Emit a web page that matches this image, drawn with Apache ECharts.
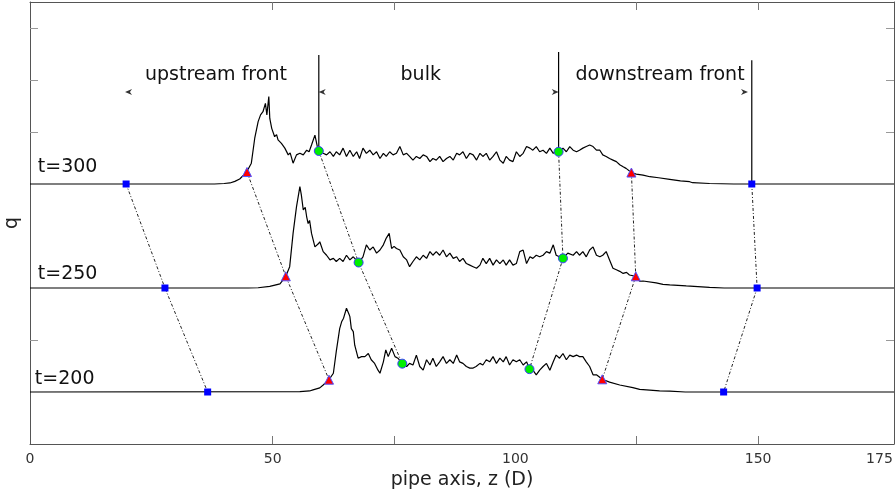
<!DOCTYPE html>
<html><head><meta charset="utf-8">
<script src="https://cdn.jsdelivr.net/npm/echarts@6/dist/echarts.min.js"></script>
<style>html,body{margin:0;padding:0;background:#fff}#c{width:895px;height:493px}</style>
</head><body><div id="c"></div>
<script>
// ---- data ----
const timeLabels = ['t=300', 't=250', 't=200'];
const offsets = [5, 3, 1]; // vertical offset of each profile (axis units)
const xTickLabels = [0, 50, 100, 150, 175];
const xTickMarks = [50, 75, 125, 150];
const yTickMarks = [2, 6, 7, 8];

// profiles q(z) as [z, q]
const q300 = [[0,0],[38,0],[40,0.01],[41.2,0.02],[42.2,0.05],[43.2,0.096],[44.6,0.225],[45.6,0.40],[46.3,0.88],[47.0,1.20],[47.5,1.33],[48.0,1.39],[48.3,1.36],[48.5,1.55],[48.8,1.33],[49.2,1.68],[49.4,1.26],[49.8,1.07],[50.4,0.91],[50.8,0.95],[51.1,0.85],[51.8,0.78],[52.5,0.69],[53.2,0.56],[53.6,0.60],[54.2,0.40],[54.9,0.56],[55.6,0.59],[56.3,0.56],[57.0,0.65],[57.5,0.62],[58.0,0.75],[58.7,0.94],[59.2,0.72],[59.5,0.635],
[60.4,0.59],[61.1,0.56],[61.8,0.62],[62.5,0.53],[63.1,0.62],[63.8,0.56],[64.5,0.69],[65.2,0.53],[65.9,0.65],[66.6,0.53],[67.3,0.62],[67.9,0.49],[68.6,0.69],[69.3,0.59],[70.0,0.65],[70.7,0.56],[71.4,0.62],[72.1,0.49],[72.8,0.59],[73.4,0.53],[74.1,0.62],[74.8,0.56],[75.5,0.59],[76.2,0.72],[76.9,0.56],[77.6,0.59],[78.2,0.53],[78.9,0.46],[79.6,0.53],[80.3,0.49],[81.0,0.56],[81.7,0.53],[82.4,0.43],[83.0,0.49],[83.7,0.46],[84.4,0.53],[85.1,0.43],[85.8,0.49],[86.5,0.53],[87.2,0.46],[87.9,0.59],[88.5,0.56],[89.2,0.62],[89.9,0.49],[90.6,0.59],[91.3,0.56],[92.0,0.46],[92.7,0.59],[93.3,0.53],[94.0,0.59],[94.7,0.46],[95.4,0.53],[96.1,0.62],[96.8,0.46],[97.5,0.40],[98.1,0.53],[98.8,0.46],[99.5,0.43],[100.2,0.62],[100.9,0.53],[101.6,0.59],[102.3,0.72],[103.0,0.69],[103.6,0.65],[104.3,0.72],[105.0,0.62],[105.7,0.65],[106.4,0.59],[107.1,0.69],[107.8,0.59],[108.4,0.62],[108.9,0.62],[109.8,0.69],[110.5,0.62],[111.2,0.72],[111.9,0.65],[112.6,0.62],[113.2,0.65],[113.9,0.69],[114.6,0.72],[115.3,0.75],[116.0,0.72],[116.7,0.65],[117.4,0.65],[118.0,0.56],[118.7,0.53],[119.4,0.49],[120.1,0.46],[120.8,0.43],[121.5,0.37],[122.2,0.33],[122.8,0.30],[123.9,0.22],[124.9,0.19],[126.3,0.17],[127.7,0.14],[129.5,0.12],[131.8,0.09],[134.0,0.06],[135.9,0.044],[136.5,0.025],[140,0.01],[145,0],[178,0]];

const q250 = [[0,0],[45,0],[47,0.005],[49.4,0.03],[51.5,0.08],[52.7,0.225],[53.5,0.41],[54.2,1.05],[54.9,1.56],[55.6,1.95],[55.9,1.79],[56.3,1.50],[56.7,1.55],[57.0,1.37],[57.3,1.24],[57.6,1.30],[58.0,1.05],[58.7,0.79],[59.4,0.85],[59.7,0.89],[60.4,0.70],[61.1,0.63],[61.8,0.54],[62.5,0.57],[63.1,0.51],[63.8,0.57],[64.5,0.51],[65.2,0.63],[65.9,0.54],[66.6,0.60],[67.7,0.49],[68.6,0.60],[69.3,0.83],[70.0,0.73],[70.7,0.79],[71.4,0.67],[72.1,0.73],[72.8,0.83],[73.4,0.96],[74.0,1.05],[74.5,0.76],[75.0,0.80],[75.5,0.76],[76.2,0.73],[76.9,0.60],[77.6,0.54],[78.2,0.41],[78.9,0.51],[79.6,0.60],[80.3,0.54],[81.0,0.63],[81.7,0.57],[82.4,0.70],[83.0,0.63],[83.7,0.70],[84.4,0.63],[85.1,0.73],[85.8,0.60],[86.5,0.67],[87.2,0.57],[87.9,0.60],[88.5,0.51],[89.2,0.57],[89.9,0.47],[90.6,0.44],[91.3,0.41],[92.0,0.38],[92.7,0.44],[93.3,0.57],[94.0,0.47],[94.7,0.57],[95.4,0.44],[96.1,0.54],[96.8,0.47],[97.5,0.54],[98.1,0.44],[98.8,0.54],[99.5,0.44],[100.2,0.47],[100.9,0.70],[101.6,0.73],[102.3,0.47],[103.0,0.60],[103.6,0.57],[104.3,0.63],[105.0,0.60],[105.7,0.63],[106.4,0.70],[107.1,0.67],[107.8,0.83],[108.4,0.63],[109.8,0.57],[110.8,0.67],[111.9,0.63],[112.6,0.70],[113.2,0.63],[113.9,0.70],[114.6,0.60],[115.3,0.73],[116.0,0.79],[116.7,0.63],[117.4,0.60],[118.0,0.63],[118.7,0.70],[119.4,0.54],[120.1,0.38],[120.8,0.35],[121.5,0.32],[122.2,0.28],[122.9,0.30],[123.5,0.25],[124.8,0.225],[125.6,0.13],[126.3,0.135],[129.0,0.10],[130.4,0.07],[131.8,0.06],[135.2,0.04],[140,0.013],[143,0],[178,0]];

const q200 = [[0,0],[55.6,0.006],[57.6,0.02],[58.3,0.04],[59.7,0.08],[60.4,0.135],[61.6,0.237],[62.5,0.36],[63.1,0.78],[63.8,1.22],[64.2,1.35],[64.6,1.42],[65.2,1.61],[65.5,1.64],[65.7,1.50],[65.9,1.45],[66.2,1.22],[66.6,1.16],[66.9,0.90],[67.6,0.65],[68.3,0.68],[69.0,0.68],[69.7,0.74],[70.3,0.62],[71.0,0.55],[71.7,0.42],[72.1,0.36],[72.8,0.58],[73.3,0.81],[73.8,0.68],[74.5,0.84],[75.2,0.68],[75.8,0.65],[76.7,0.545],[77.6,0.49],[78.2,0.55],[78.9,0.52],[79.6,0.71],[80.3,0.49],[81.0,0.42],[81.7,0.62],[82.4,0.52],[83.0,0.65],[83.7,0.49],[84.4,0.58],[85.1,0.68],[85.8,0.55],[86.5,0.62],[87.2,0.55],[87.9,0.71],[88.5,0.58],[89.2,0.55],[89.9,0.49],[90.6,0.46],[91.3,0.46],[91.9,0.49],[92.7,0.55],[93.3,0.52],[94.0,0.62],[94.7,0.58],[95.4,0.68],[96.1,0.55],[96.8,0.65],[97.5,0.58],[98.1,0.68],[98.8,0.52],[99.5,0.62],[100.2,0.58],[100.9,0.62],[101.6,0.52],[102.3,0.58],[102.9,0.44],[103.6,0.42],[104.3,0.33],[105.0,0.42],[105.7,0.49],[106.4,0.55],[107.1,0.42],[107.8,0.58],[108.4,0.71],[109.1,0.65],[109.8,0.74],[110.5,0.62],[111.2,0.71],[111.9,0.68],[112.6,0.71],[113.2,0.68],[113.9,0.68],[114.6,0.58],[115.3,0.49],[116.0,0.33],[116.7,0.33],[117.9,0.244],[119.4,0.19],[121.5,0.135],[124.2,0.083],[125.6,0.05],[127.0,0.04],[129.7,0.02],[131.8,0.015],[135,0],[178,0]];

// tracked points: z and q at t=300, t=250, t=200
const sqLeftZ = [19.8, 27.8, 36.6];
const sqLeftQ = [0, 0, 0];
const triLeftZ = [44.7, 52.7, 61.6];
const triLeftQ = [0.23, 0.225, 0.237];
const circLeftZ = [59.5, 67.7, 76.7];
const circLeftQ = [0.635, 0.49, 0.545];
const circRightZ = [108.9, 109.8, 102.9];
const circRightQ = [0.62, 0.57, 0.44];
const triRightZ = [123.9, 124.8, 117.9];
const triRightQ = [0.22, 0.225, 0.244];
const sqRightZ = [148.7, 149.8, 142.9];
const sqRightQ = [0, 0, 0];

// region divider lines (z, bottom y, top y)
const dividerZ = [59.5, 108.9, 148.7];
const dividerBottom = [5.635, 5.62, 5.0];
const dividerTop = [7.48, 7.54, 7.38];
// arrowheads (z, y, direction)
const arrowZ = [20.3, 60.2, 108.2, 147.2];
const arrowY = [6.77, 6.77, 6.77, 6.77];
const arrowDir = ['left', 'left', 'right', 'right'];
const regionNames = ['upstream front', 'bulk', 'downstream front'];

// ---- chart ----
const FONT = 'DejaVu Sans';
const chart = echarts.init(document.getElementById('c'), null, {renderer: 'canvas'});
const profiles = [q300, q250, q200];

const series = [];
function track(zs, qs) {
  return zs.map((z, i) => [z, qs[i] + offsets[i]]);
}
const groups = [
  {z: sqLeftZ, q: sqLeftQ, sym: 'rect', size: 7, color: '#0000ff', border: '#0000ff'},
  {z: triLeftZ, q: triLeftQ, sym: 'triangle', size: 9, color: '#ff0000', border: '#5050ff'},
  {z: circLeftZ, q: circLeftQ, sym: 'circle', size: 9, color: '#00ee00', border: '#3a3aff'},
  {z: circRightZ, q: circRightQ, sym: 'circle', size: 9, color: '#00ee00', border: '#3a3aff'},
  {z: triRightZ, q: triRightQ, sym: 'triangle', size: 9, color: '#ff0000', border: '#5050ff'},
  {z: sqRightZ, q: sqRightQ, sym: 'rect', size: 7, color: '#0000ff', border: '#0000ff'}
];
groups.forEach(g => {
  series.push({
    type: 'line', data: track(g.z, g.q), showSymbol: false, symbol: 'none', z: 2,
    lineStyle: {color: '#222', width: 1, type: [3, 2, 1, 2]}, silent: true
  });
});
profiles.forEach((p, i) => {
  series.push({
    type: 'line', data: p.map(d => [d[0], d[1] + offsets[i]]), showSymbol: false, symbol: 'none', z: 3,
    lineStyle: {color: '#000', width: 1.2}, silent: true
  });
});
dividerZ.forEach((z, i) => {
  series.push({
    type: 'line', data: [[z, dividerBottom[i]], [z, dividerTop[i]]], showSymbol: false, symbol: 'none', z: 3,
    lineStyle: {color: '#000', width: 1.2}, silent: true
  });
});
groups.forEach(g => {
  series.push({
    type: 'scatter', data: track(g.z, g.q), symbol: g.sym, symbolSize: g.size, z: 5,
    itemStyle: {color: g.color, borderColor: g.border, borderWidth: g.sym === 'rect' ? 0 : 1, opacity: 1}, silent: true
  });
});
series.push({
  type: 'scatter', z: 5, silent: true,
  symbol: 'path://M0,0 L10,5 L0,10 L3,5 Z', symbolSize: [7, 6],
  data: arrowZ.map((z, i) => ({value: [z, arrowY[i]], symbolRotate: arrowDir[i] === 'left' ? 180 : 0})),
  itemStyle: {color: '#000'}
});

const axisLineStyle = {color: '#555', width: 1};
const option = {
  animation: false,
  backgroundColor: '#fff',
  grid: {left: 30, right: 1, top: 2, bottom: 49, outerBoundsMode: 'none', containLabel: false},
  xAxis: [{
    type: 'value', min: 0, max: 178, position: 'bottom',
    axisLine: {show: true, onZero: false, lineStyle: axisLineStyle},
    axisTick: {show: true, inside: true, length: 8, customValues: xTickMarks, lineStyle: {color: '#777'}},
    axisLabel: {show: true, customValues: xTickLabels, fontSize: 14, color: '#333', margin: 8, fontFamily: FONT},
    splitLine: {show: false},
    name: 'pipe axis, z (D)', nameLocation: 'middle', nameGap: 22,
    nameTextStyle: {fontSize: 19, color: '#222', fontFamily: FONT}
  }, {
    type: 'value', min: 0, max: 178, position: 'top',
    axisLine: {show: true, onZero: false, lineStyle: axisLineStyle},
    axisTick: {show: true, inside: true, length: 8, customValues: xTickMarks, lineStyle: {color: '#777'}},
    axisLabel: {show: false}, splitLine: {show: false}
  }],
  yAxis: [{
    type: 'value', min: 0, max: 8.5, position: 'left',
    axisLine: {show: true, onZero: false, lineStyle: axisLineStyle},
    axisTick: {show: true, inside: true, length: 8, customValues: yTickMarks, lineStyle: {color: '#999'}},
    axisLabel: {show: false}, splitLine: {show: false},
    name: 'q', nameLocation: 'middle', nameGap: 8, nameRotate: 90,
    nameTextStyle: {fontSize: 19, color: '#222', fontFamily: FONT}
  }, {
    type: 'value', min: 0, max: 8.5, position: 'right',
    axisLine: {show: true, onZero: false, lineStyle: axisLineStyle},
    axisTick: {show: true, inside: true, length: 8, customValues: yTickMarks, lineStyle: {color: '#999'}},
    axisLabel: {show: false}, splitLine: {show: false}
  }],
  series: series
};
chart.setOption(option);

// text annotations placed through the axes' scales
function px(z, y) { return chart.convertToPixel({xAxisIndex: 0, yAxisIndex: 0}, [z, y]); }
const regionCenters = [38.3, 80.5, 129.8];
const regionLabelY = 7.1;
const graphics = [];
regionNames.forEach((n, i) => {
  const p = px(regionCenters[i], regionLabelY);
  graphics.push({type: 'text', x: p[0], y: p[1], style: {text: n, font: '19px "DejaVu Sans"', fill: '#111', textAlign: 'center', textVerticalAlign: 'middle'}});
});
const timeLabelZ = [1.6, 1.6, 1.0];
const timeLabelDy = [0.33, 0.27, 0.25];
timeLabels.forEach((t, i) => {
  const p = px(timeLabelZ[i], offsets[i] + timeLabelDy[i]);
  graphics.push({type: 'text', x: p[0], y: p[1], style: {text: t, font: '19px "DejaVu Sans"', fill: '#111', textAlign: 'left', textVerticalAlign: 'middle'}});
});
chart.setOption({graphic: graphics});
</script>
</body></html>
